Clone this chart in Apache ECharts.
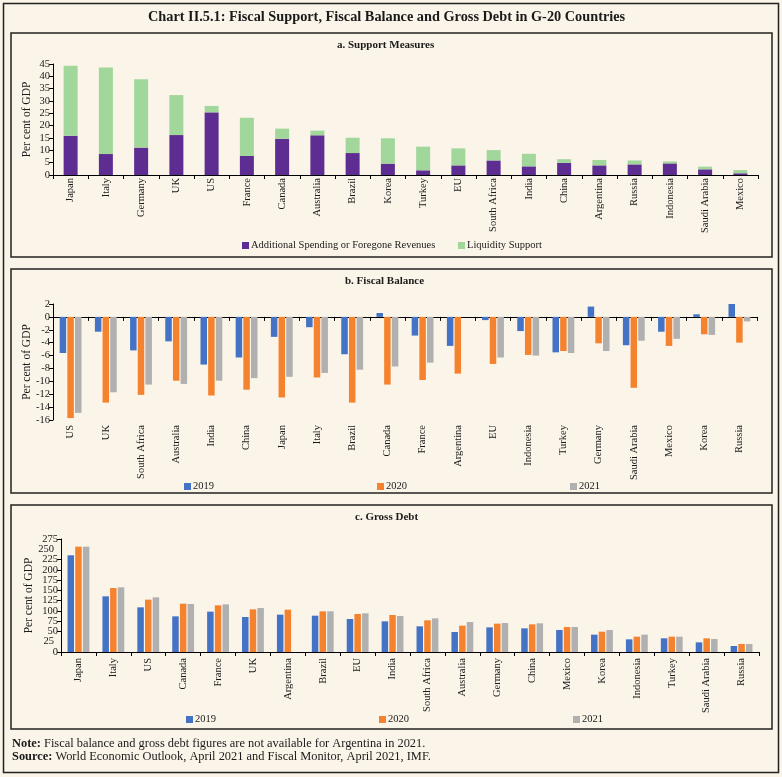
<!DOCTYPE html>
<html>
<head>
<meta charset="utf-8">
<script src="https://cdn.jsdelivr.net/npm/echarts@6/dist/echarts.min.js"></script>
<style>
html,body{margin:0;padding:0;background:#FBF4E9;}
#chart{width:782px;height:777px;}
</style>
</head>
<body>
<div id="chart"></div>
<script>
// ---- Panel a: Support Measures (per cent of GDP)
const catsA = ['Japan','Italy','Germany','UK','US','France','Canada','Australia','Brazil','Korea','Turkey','EU','South Africa','India','China','Argentina','Russia','Indonesia','Saudi Arabia','Mexico'];
const spending = [15.9, 8.5, 11.1, 16.2, 25.4, 7.7, 14.7, 16.1, 8.9, 4.6, 1.9, 3.9, 5.9, 3.5, 4.9, 3.9, 4.3, 4.7, 2.3, 0.7];
const liquidity = [28.4, 35.1, 27.7, 16.2, 2.6, 15.5, 4.1, 1.9, 6.2, 10.3, 9.6, 6.9, 4.2, 5.1, 1.5, 2.2, 1.6, 0.8, 1.1, 1.3];

// ---- Panel b: Fiscal Balance (per cent of GDP)
const catsB = ['US','UK','South Africa','Australia','India','China','Japan','Italy','Brazil','Canada','France','Argentina','EU','Indonesia','Turkey','Germany','Saudi Arabia','Mexico','Korea','Russia'];
const bal2019 = [-5.6, -2.3, -5.2, -3.8, -7.4, -6.3, -3.1, -1.6, -5.8, 0.6, -2.9, -4.5, -0.5, -2.2, -5.5, 1.6, -4.4, -2.3, 0.4, 2.0];
const bal2020 = [-15.7, -13.3, -12.1, -9.9, -12.2, -11.3, -12.5, -9.4, -13.3, -10.5, -9.8, -8.8, -7.3, -5.9, -5.3, -4.1, -11.0, -4.5, -2.7, -4.0];
const bal2021 = [-14.9, -11.7, -10.5, -10.4, -9.9, -9.5, -9.3, -8.7, -8.2, -7.7, -7.1, null, -6.3, -6.0, -5.6, -5.3, -3.7, -3.4, -2.8, -0.7];

// ---- Panel c: Gross Debt (per cent of GDP)
const catsC = ['Japan','Italy','US','Canada','France','UK','Argentina','Brazil','EU','India','South Africa','Australia','Germany','China','Mexico','Korea','Indonesia','Turkey','Saudi Arabia','Russia'];
const debt2019 = [235.3, 135.5, 108.7, 86.8, 98.2, 85.2, 90.9, 88.4, 80.3, 74.6, 62.5, 48.7, 60.0, 57.6, 53.5, 42.2, 30.8, 33.3, 23.5, 14.6];
const debt2020 = [256.3, 155.8, 127.4, 117.6, 113.6, 103.8, 103.0, 99.0, 92.5, 90.0, 77.1, 64.1, 69.0, 67.3, 60.8, 49.5, 37.3, 37.3, 33.3, 19.5];
const debt2021 = [256.3, 157.4, 133.0, 116.8, 116.0, 107.1, null, 99.0, 94.1, 87.6, 81.9, 73.0, 70.6, 69.8, 60.8, 53.5, 42.2, 37.3, 31.6, 19.5];

const FONT = 'Liberation Serif';
const TXT = '#1a1a1a';
const C19 = '#4472C4', C20 = '#F5822F', C21 = '#B0B0B0';
const PURPLE = '#5E2D91', GREEN = '#A2D79C';

const chart = echarts.init(document.getElementById('chart'), null, {renderer: 'canvas'});

function yAx(gi, min, max, interval, gap) {
  return {
    type: 'value', gridIndex: gi, min, max, interval, position: 'left',
    name: 'Per cent of GDP', nameLocation: 'middle', nameGap: gap, nameMoveOverlap: false,
    nameTextStyle: {fontFamily: FONT, fontSize: 11.5, color: TXT},
    axisLine: {show: true, lineStyle: {color: '#000', width: 1}},
    axisTick: {show: true, length: 4, lineStyle: {color: '#000'}},
    axisLabel: {fontFamily: FONT, fontSize: 10.5, color: TXT, margin: 3, showMinLabel: true, showMaxLabel: true},
    splitLine: {show: false}
  };
}
function xAx(gi, data, margin) {
  return {
    type: 'category', gridIndex: gi, data, position: 'bottom',
    axisLine: {show: true, onZero: true, lineStyle: {color: '#000', width: 1}},
    axisTick: {show: true, length: 4, interval: 0, lineStyle: {color: '#000'}},
    axisLabel: {fontFamily: FONT, fontSize: 10.5, color: TXT, rotate: 90, margin, interval: 0},
    splitLine: {show: false}
  };
}
function legendItem(name, left, top) {
  return {
    data: [name], left, top, itemWidth: 7, itemHeight: 7, icon: 'rect',
    textStyle: {fontFamily: FONT, fontSize: 10.5, color: TXT, padding: [0, 0, 0, -3]},
    selectedMode: false
  };
}

const xB_labels = xAx(1, catsB, 5);
xB_labels.axisLine = {show: false, onZero: false};
xB_labels.axisTick = {show: false};
const xB_zero = xAx(1, catsB, 5);
xB_zero.axisLabel = {show: false};

// companion axis for panel c: shows only the labels next to min / max,
// which the main axis drops because the labels are tightly packed
const yC_main = yAx(2, 0, 275, 25, 26);
const yC_extra = yAx(2, 0, 275, 25, 26);
yC_extra.name = '';
yC_extra.axisLine = {show: false};
yC_extra.axisTick = {show: false};
yC_extra.axisLabel = {
  fontFamily: FONT, fontSize: 10.5, color: TXT, margin: 7,
  showMinLabel: false, showMaxLabel: false,
  formatter: v => (v === 25 || v === 250) ? String(v) : ''
};

const option = {
  backgroundColor: '#FBF4E9',
  animation: false,
  graphic: [
    {type: 'rect', shape: {x: 3.5, y: 3.5, width: 775, height: 769}, style: {fill: 'none', stroke: '#222', lineWidth: 1.5}},
    {type: 'rect', shape: {x: 11, y: 33, width: 761, height: 224}, style: {fill: 'none', stroke: '#222', lineWidth: 1.5}},
    {type: 'rect', shape: {x: 11, y: 269, width: 761, height: 224}, style: {fill: 'none', stroke: '#222', lineWidth: 1.5}},
    {type: 'rect', shape: {x: 11, y: 505, width: 761, height: 224}, style: {fill: 'none', stroke: '#222', lineWidth: 1.5}},
    {type: 'text', left: 148, top: 10, style: {text: 'Chart II.5.1: Fiscal Support, Fiscal Balance and Gross Debt in G-20 Countries', font: 'bold 14.3px "Liberation Serif"', fill: TXT}},
    {type: 'text', left: 337, top: 40, style: {text: 'a. Support Measures', font: 'bold 11px "Liberation Serif"', fill: TXT}},
    {type: 'text', left: 345, top: 276, style: {text: 'b. Fiscal Balance', font: 'bold 11px "Liberation Serif"', fill: TXT}},
    {type: 'text', left: 355, top: 512, style: {text: 'c. Gross Debt', font: 'bold 11px "Liberation Serif"', fill: TXT}},
    {type: 'text', left: 12, top: 738, style: {text: '{b|Note:} Fiscal balance and gross debt figures are not available for Argentina in 2021.', font: '12.4px "Liberation Serif"', fill: TXT, rich: {b: {fontWeight: 'bold', fontFamily: FONT, fontSize: 12.4}}}},
    {type: 'text', left: 12, top: 751, style: {text: '{b|Source:} World Economic Outlook, April 2021 and Fiscal Monitor, April 2021, IMF.', font: '12.4px "Liberation Serif"', fill: TXT, rich: {b: {fontWeight: 'bold', fontFamily: FONT, fontSize: 12.4}}}}
  ],
  legend: [
    legendItem('Additional Spending or Foregone Revenues', 237, 235),
    legendItem('Liquidity Support', 453, 235),
    legendItem('2019', 179, 476),
    legendItem('2020', 372, 476),
    legendItem('2021', 565, 476),
    {...legendItem('2019 ', 181, 709), formatter: n => n.trim()},
    {...legendItem('2020 ', 374, 709), formatter: n => n.trim()},
    {...legendItem('2021 ', 568, 709), formatter: n => n.trim()}
  ],
  grid: [
    {left: 53, right: 24, top: 64, height: 111},
    {left: 53, right: 25, top: 304, height: 116},
    {left: 61, right: 23, top: 539, height: 113}
  ],
  xAxis: [xAx(0, catsA, 3), xB_labels, xAx(2, catsC, 6), xB_zero],
  yAxis: [yAx(0, 0, 45, 5, 20), yAx(1, -16, 2, 2, 20), yC_main, yC_extra],
  series: [
    {name: 'Additional Spending or Foregone Revenues', type: 'bar', xAxisIndex: 0, yAxisIndex: 0, stack: 'a', data: spending, barWidth: 14, itemStyle: {color: PURPLE}},
    {name: 'Liquidity Support', type: 'bar', xAxisIndex: 0, yAxisIndex: 0, stack: 'a', data: liquidity, barWidth: 14, itemStyle: {color: GREEN}},
    {name: '2019', type: 'bar', xAxisIndex: 1, yAxisIndex: 1, data: bal2019, barWidth: 6.5, barGap: '18%', itemStyle: {color: C19}},
    {name: '2020', type: 'bar', xAxisIndex: 1, yAxisIndex: 1, data: bal2020, barWidth: 6.5, barGap: '18%', itemStyle: {color: C20}},
    {name: '2021', type: 'bar', xAxisIndex: 1, yAxisIndex: 1, data: bal2021, barWidth: 6.5, barGap: '18%', itemStyle: {color: C21}},
    {name: '2019 ', type: 'bar', xAxisIndex: 2, yAxisIndex: 2, data: debt2019, barWidth: 6.5, barGap: '18%', itemStyle: {color: C19}},
    {name: '2020 ', type: 'bar', xAxisIndex: 2, yAxisIndex: 2, data: debt2020, barWidth: 6.5, barGap: '18%', itemStyle: {color: C20}},
    {name: '2021 ', type: 'bar', xAxisIndex: 2, yAxisIndex: 2, data: debt2021, barWidth: 6.5, barGap: '18%', itemStyle: {color: C21}}
  ]
};
chart.setOption(option);
</script>
</body>
</html>
